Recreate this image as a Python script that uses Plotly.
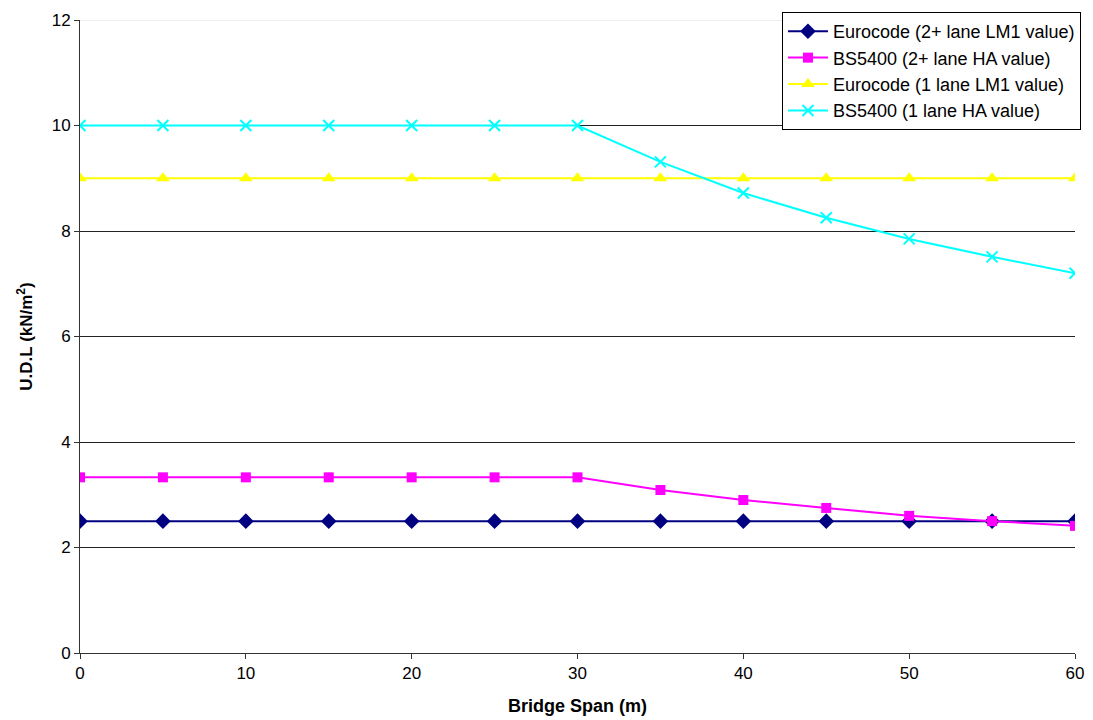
import plotly.graph_objects as go

# Bridge span (m)
span = [0, 5, 10, 15, 20, 25, 30, 35, 40, 45, 50, 55, 60]

# Uniformly distributed load (kN/m^2)
euro_2plus = [2.5, 2.5, 2.5, 2.5, 2.5, 2.5, 2.5, 2.5, 2.5, 2.5, 2.5, 2.5, 2.5]
bs_2plus = [3.33, 3.33, 3.33, 3.33, 3.33, 3.33, 3.33, 3.09, 2.90, 2.75, 2.60, 2.50, 2.41]
euro_1 = [9, 9, 9, 9, 9, 9, 9, 9, 9, 9, 9, 9, 9]
bs_1 = [10, 10, 10, 10, 10, 10, 10, 9.31, 8.72, 8.25, 7.85, 7.51, 7.20]

series_names = [
    "Eurocode (2+ lane LM1 value)",
    "BS5400 (2+ lane HA value)",
    "Eurocode (1 lane LM1 value)",
    "BS5400 (1 lane HA value)",
]

fig = go.Figure()
fig.add_trace(go.Scatter(
    x=span, y=euro_2plus, name=series_names[0], mode="lines+markers",
    line=dict(color="#000080", width=2),
    marker=dict(symbol="diamond", size=12, color="#000080"),
))
fig.add_trace(go.Scatter(
    x=span, y=bs_2plus, name=series_names[1], mode="lines+markers",
    line=dict(color="#FF00FF", width=2),
    marker=dict(symbol="square", size=10, color="#FF00FF"),
))
fig.add_trace(go.Scatter(
    x=span, y=euro_1, name=series_names[2], mode="lines+markers",
    line=dict(color="#FFFF00", width=2),
    marker=dict(symbol="triangle-up", size=12, color="#FFFF00"),
))
fig.add_trace(go.Scatter(
    x=span, y=bs_1, name=series_names[3], mode="lines+markers",
    line=dict(color="#00FFFF", width=2),
    marker=dict(symbol="x-thin", size=11, color="#00FFFF",
                line=dict(color="#00FFFF", width=2)),
))

font_family = "Liberation Sans, Arial, sans-serif"

fig.update_layout(
    width=1093, height=720,
    margin=dict(l=80, r=18, t=20, b=67),
    paper_bgcolor="white", plot_bgcolor="white",
    font=dict(family=font_family, size=17, color="black"),
    showlegend=True,
    legend=dict(
        x=1.006, y=1.0126, xanchor="right", yanchor="top",
        bgcolor="white", bordercolor="black", borderwidth=1,
        font=dict(size=18), tracegroupgap=0, itemwidth=40,
    ),
    xaxis=dict(
        range=[0, 60], tickvals=[0, 10, 20, 30, 40, 50, 60],
        showgrid=False, zeroline=False, automargin=False,
        showline=True, linecolor="#333333", linewidth=1,
        ticks="outside", ticklen=5, tickcolor="#333333",
        tickfont=dict(size=17),
        title=dict(text="<b>Bridge Span (m)</b>", font=dict(size=18), standoff=16),
    ),
    yaxis=dict(
        range=[0, 12], tickvals=[0, 2, 4, 6, 8, 10, 12],
        showgrid=True, gridcolor="#222222", gridwidth=1,
        zeroline=False, automargin=False,
        showline=True, linecolor="#333333", linewidth=1,
        ticks="outside", ticklen=5, tickcolor="#333333",
        tickfont=dict(size=17),
        title=dict(text="<b>U.D.L (kN/m<sup>2</sup>)</b>", font=dict(size=17), standoff=14),
    ),
)

# Top gridline is drawn light grey
fig.add_shape(type="line", xref="paper", yref="y", x0=0, x1=1, y0=12, y1=12,
              line=dict(color="#dddddd", width=1), layer="above")

fig.write_html("out.html")
